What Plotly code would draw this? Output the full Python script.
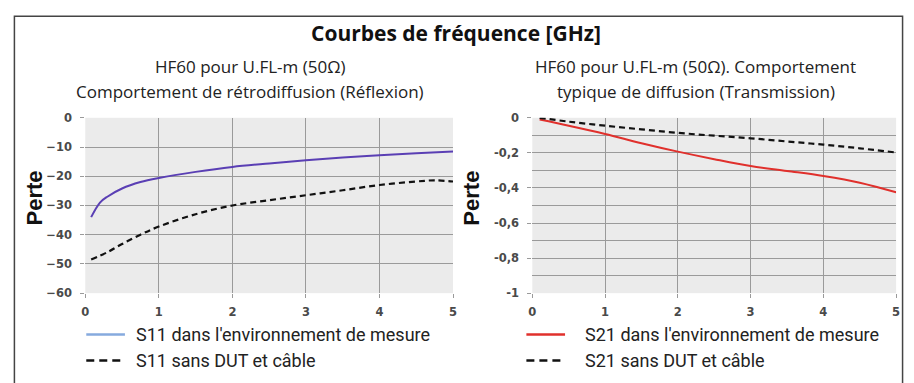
import plotly.graph_objects as go

# Frequency axis samples [GHz]
freq_s11 = [0.08, 0.2, 0.3, 0.5, 0.75, 1.0, 1.5, 2.0, 2.5, 3.0, 3.5, 4.0, 4.5, 5.0]
s11_env = [-34.0, -29.0, -27.0, -24.2, -22.0, -20.6, -18.5, -16.8, -15.6, -14.5, -13.6, -12.8, -12.1, -11.5]
freq_s11_ref = [0.08, 0.3, 0.5, 0.75, 1.0, 1.5, 2.0, 2.5, 3.0, 3.5, 4.0, 4.5, 4.75, 5.0]
s11_ref = [-48.5, -46.0, -43.2, -40.0, -37.2, -33.0, -30.0, -28.2, -26.5, -24.8, -23.0, -21.8, -21.4, -21.8]

freq_s21 = [0.1, 0.5, 1.0, 1.5, 2.0, 2.5, 3.0, 3.5, 4.0, 4.5, 5.0]
s21_env = [-0.01, -0.045, -0.092, -0.145, -0.193, -0.236, -0.275, -0.303, -0.332, -0.37, -0.425]
s21_ref = [0.0, -0.022, -0.045, -0.066, -0.086, -0.102, -0.117, -0.135, -0.153, -0.174, -0.198]

x_ticks = [0, 1, 2, 3, 4, 5]
left_ticks = [0, -10, -20, -30, -40, -50, -60]
right_ticks = [0, -0.2, -0.4, -0.6, -0.8, -1]
right_ticktext = ["0", "-0,2", "-0,4", "-0,6", "-0,8", "-1"]

title = "Courbes de fréquence [GHz]"
sub_left = ["HF60 pour U.FL-m (50Ω)", "Comportement de rétrodiffusion (Réflexion)"]
sub_right = ["HF60 pour U.FL-m (50Ω). Comportement", "typique de diffusion (Transmission)"]
legend_left = ["S11 dans l'environnement de mesure", "S11 sans DUT et câble"]
legend_right = ["S21 dans l'environnement de mesure", "S21 sans DUT et câble"]

W, H = 914, 383
PURPLE = "#5a3fb4"
LEG_BLUE = "#86aade"
RED = "#e0302c"
GRID = "#9a9a9a"

fig = go.Figure()
fig.add_trace(go.Scatter(x=freq_s11, y=s11_env, mode="lines", line=dict(color=PURPLE, width=2, shape="spline"),
                         xaxis="x", yaxis="y", showlegend=False))
fig.add_trace(go.Scatter(x=freq_s11_ref, y=s11_ref, mode="lines",
                         line=dict(color="#111", width=2.2, dash="6px,4px", shape="spline"),
                         xaxis="x", yaxis="y", showlegend=False))
fig.add_trace(go.Scatter(x=freq_s21, y=s21_env, mode="lines", line=dict(color=RED, width=2, shape="spline"),
                         xaxis="x2", yaxis="y2", showlegend=False))
fig.add_trace(go.Scatter(x=freq_s21, y=s21_ref, mode="lines",
                         line=dict(color="#111", width=2.2, dash="6px,4px", shape="spline"),
                         xaxis="x2", yaxis="y2", showlegend=False))


def px_x(v):
    return v / W


def px_y(v):
    return 1 - v / H


tick_font = dict(family="DejaVu Sans", size=11.5, color="#4a4a4a", weight="bold")
y0, y1 = px_y(297), px_y(115)
axis_common = dict(showline=False, zeroline=False, gridcolor=GRID, gridwidth=1,
                   tickfont=tick_font, ticks="outside", ticklen=4, tickcolor=GRID, fixedrange=True)
xcommon = dict(axis_common, ticklabelstandoff=4)
ycommon = dict(axis_common, ticklabelstandoff=6)

fig.update_layout(
    width=W, height=H, margin=dict(l=0, r=0, t=0, b=0),
    paper_bgcolor="white", plot_bgcolor="#ebebeb", showlegend=False,
    xaxis=dict(domain=[px_x(82), px_x(453)], range=[0, 5], tickvals=x_ticks, anchor="y", **xcommon),
    yaxis=dict(domain=[y0, y1], range=[-60, 0], tickvals=left_ticks, anchor="x", **ycommon),
    xaxis2=dict(domain=[px_x(533), px_x(900)], range=[0, 5], tickvals=x_ticks, anchor="y2", **xcommon),
    yaxis2=dict(domain=[y0, y1], range=[-1, 0], tickvals=right_ticks, ticktext=right_ticktext, anchor="x2",
                minor=dict(dtick=0.1, showgrid=True, gridcolor=GRID, gridwidth=1), **ycommon),
)


def note(text, x, y, font, **kw):
    d = dict(text=text, x=px_x(x), y=px_y(y), xref="paper", yref="paper", showarrow=False,
             xanchor="center", yanchor="middle", font=font)
    d.update(kw)
    return d


shapes = [
    dict(type="rect", xref="paper", yref="paper", x0=px_x(10.5), x1=px_x(906.5), y0=px_y(395), y1=px_y(9.5),
         line=dict(color="#444", width=1.5), fillcolor="rgba(0,0,0,0)"),
]
annotations = [note("<b>%s</b>" % title, 456, 27, dict(family="Open Sans", size=21, color="#111"))]
text_font = dict(family="Open Sans", size=17, color="#222")
for i, line in enumerate(sub_left):
    annotations.append(note(line, 248, 62 + 26 * i, text_font))
for i, line in enumerate(sub_right):
    annotations.append(note(line, 698, 62 + 26 * i, text_font))
for xc in (31, 472):
    annotations.append(note("<b>Perte</b>", xc, 198, dict(family="Liberation Sans, Arial", size=22, color="#111"),
                            textangle=-90))

# Legend rows drawn as line samples with labels
leg_font = dict(family="Roboto, Arial", size=18, color="#222")
rows = [
    (83, 122, 131, legend_left[0], dict(color=LEG_BLUE, width=2.5)),
    (83, 122, 131, legend_left[1], dict(color="#111", width=2.5, dash="8px,5px")),
    (527, 566, 584, legend_right[0], dict(color=RED, width=2.5)),
    (527, 566, 584, legend_right[1], dict(color="#111", width=2.5, dash="8px,5px")),
]
for i, (a, b, tx, label, ln) in enumerate(rows):
    yy = 340 if i % 2 == 0 else 367
    shapes.append(dict(type="line", xref="paper", yref="paper", x0=px_x(a), x1=px_x(b),
                       y0=px_y(yy), y1=px_y(yy), line=ln))
    annotations.append(note(label, tx, yy, leg_font, xanchor="left"))

fig.update_layout(shapes=shapes, annotations=annotations)
fig.write_html("out.html")
